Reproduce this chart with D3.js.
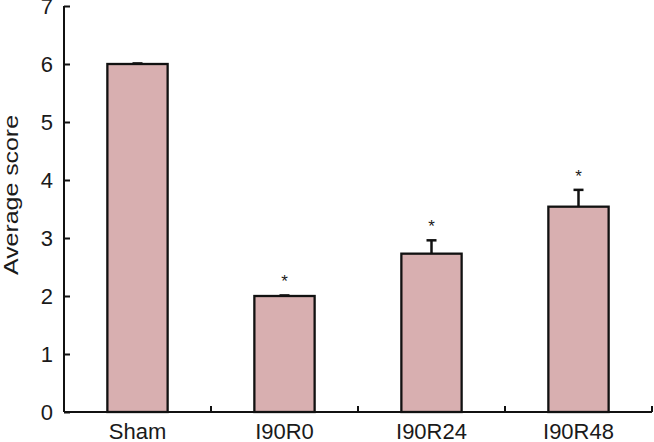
<!DOCTYPE html>
<html>
<head>
<meta charset="utf-8">
<script src="https://cdn.jsdelivr.net/npm/d3@7"></script>
<style>
  body { margin: 0; background: #fff; }
  svg { display: block; }
  text { font-family: "Liberation Sans", Arial, sans-serif; fill: #1a1a1a; }
</style>
</head>
<body>
<div id="chart"></div>
<script>
// data
const groups = ['Sham', 'I90R0', 'I90R24', 'I90R48'];
const means = [6.0, 2.0, 2.73, 3.54];
const errors = [0.01, 0.01, 0.23, 0.29];
const significant = [false, true, true, true];
const yTicks = [0, 1, 2, 3, 4, 5, 6, 7];

const width = 654, height = 442;
const margin = { top: 6, right: 2, bottom: 30, left: 64 };

const svg = d3.select('#chart')
  .append('svg')
  .attr('width', width)
  .attr('height', height);

const x = d3.scaleBand()
  .domain(groups)
  .range([margin.left, width - margin.right])
  .paddingInner(0.59)
  .paddingOuter(0.295);

const y = d3.scaleLinear()
  .domain([0, 7])
  .range([height - margin.bottom, margin.top]);

const rows = groups.map((g, i) => ({ g, m: means[i], e: errors[i], s: significant[i] }));
const mid = d => x(d.g) + x.bandwidth() / 2;

// bars
svg.append('g')
  .selectAll('rect')
  .data(rows)
  .join('rect')
  .attr('x', d => x(d.g))
  .attr('y', d => y(d.m))
  .attr('width', x.bandwidth())
  .attr('height', d => y(0) - y(d.m))
  .attr('fill', '#d8afb0')
  .attr('stroke', '#111')
  .attr('stroke-width', 2.3);

// error bars (upper only)
const eb = svg.append('g').attr('stroke', '#111').attr('stroke-width', 2.5);
eb.selectAll('line.v')
  .data(rows)
  .join('line')
  .attr('class', 'v')
  .attr('x1', mid)
  .attr('x2', mid)
  .attr('y1', d => y(d.m))
  .attr('y2', d => y(d.m + d.e));
eb.selectAll('line.cap')
  .data(rows)
  .join('line')
  .attr('class', 'cap')
  .attr('x1', d => mid(d) - 5)
  .attr('x2', d => mid(d) + 5)
  .attr('y1', d => y(d.m + d.e))
  .attr('y2', d => y(d.m + d.e));

// asterisks
svg.append('g')
  .selectAll('text')
  .data(rows.filter(d => d.s))
  .join('text')
  .attr('x', mid)
  .attr('y', d => y(d.m + d.e) - 8)
  .attr('text-anchor', 'middle')
  .style('font-size', '17px')
  .text('*');

// y axis
const yAxis = svg.append('g')
  .attr('transform', `translate(${margin.left},0)`)
  .call(d3.axisRight(y).tickValues(yTicks).tickSize(6).tickFormat(d3.format('d')));
yAxis.select('.domain').attr('d', `M0,${y(7)}V${y(0)}`).attr('stroke', '#111').attr('stroke-width', 2);
yAxis.selectAll('.tick line').attr('stroke', '#111').attr('stroke-width', 2);
yAxis.selectAll('.tick text')
  .attr('x', -11)
  .attr('text-anchor', 'end')
  .style('font-size', '22px');

// x axis
const xAxis = svg.append('g')
  .attr('transform', `translate(0,${y(0)})`);
xAxis.append('line')
  .attr('x1', margin.left)
  .attr('x2', width - margin.right)
  .attr('stroke', '#111')
  .attr('stroke-width', 2);
xAxis.selectAll('line.tick')
  .data(groups)
  .join('line')
  .attr('class', 'tick')
  .attr('x1', d => x(d) + x.bandwidth() / 2 + x.step() / 2)
  .attr('x2', d => x(d) + x.bandwidth() / 2 + x.step() / 2)
  .attr('y1', 0)
  .attr('y2', -6)
  .attr('stroke', '#111')
  .attr('stroke-width', 2);
xAxis.selectAll('text')
  .data(groups)
  .join('text')
  .attr('x', d => x(d) + x.bandwidth() / 2)
  .attr('y', 27)
  .attr('text-anchor', 'middle')
  .style('font-size', '22px')
  .text(d => d);

// y label
svg.append('text')
  .attr('transform', 'translate(18,195) rotate(-90)')
  .attr('text-anchor', 'middle')
  .attr('textLength', 160)
  .attr('lengthAdjust', 'spacingAndGlyphs')
  .style('font-size', '21px')
  .text('Average score');
</script>
</body>
</html>
